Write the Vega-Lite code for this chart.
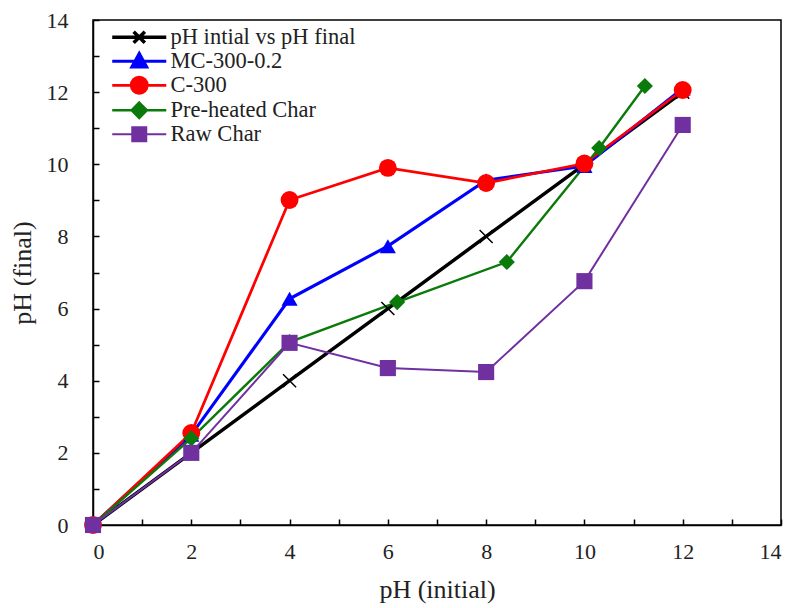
{
  "$schema": "https://vega.github.io/schema/vega-lite/v6.json",
  "width": 688,
  "height": 505,
  "autosize": {"type": "none"},
  "padding": {"left": 93, "top": 20, "right": 17, "bottom": 83},
  "background": "white",
  "config": {
    "view": {"stroke": "black", "strokeWidth": 1.5},
    "axis": {
      "labelFont": "Liberation Serif, Times New Roman, serif",
      "titleFont": "Liberation Serif, Times New Roman, serif",
      "labelFontSize": 22,
      "titleFontSize": 26,
      "titleFontWeight": "normal",
      "labelColor": "#222",
      "titleColor": "#222",
      "domainColor": "black",
      "domainWidth": 1.5,
      "tickColor": "black",
      "tickWidth": 1.5,
      "tickSize": -6,
      "grid": false
    },
    "legend": {
      "labelFont": "Liberation Serif, Times New Roman, serif",
      "labelFontSize": 22.5,
      "labelColor": "#222",
      "labelLimit": 500
    }
  },
  "data": {
    "values": [
      {"series": "pH intial vs pH final", "x": 0, "y": 0},
      {"series": "pH intial vs pH final", "x": 2, "y": 2},
      {"series": "pH intial vs pH final", "x": 4, "y": 4},
      {"series": "pH intial vs pH final", "x": 6, "y": 6},
      {"series": "pH intial vs pH final", "x": 8, "y": 8},
      {"series": "pH intial vs pH final", "x": 10, "y": 10},
      {"series": "pH intial vs pH final", "x": 12, "y": 12},
      {"series": "MC-300-0.2", "x": 0, "y": 0},
      {"series": "MC-300-0.2", "x": 2, "y": 2.5},
      {"series": "MC-300-0.2", "x": 4, "y": 6.27},
      {"series": "MC-300-0.2", "x": 6, "y": 7.73},
      {"series": "MC-300-0.2", "x": 8, "y": 9.56},
      {"series": "MC-300-0.2", "x": 10, "y": 9.95},
      {"series": "MC-300-0.2", "x": 12, "y": 12.1},
      {"series": "C-300", "x": 0, "y": 0},
      {"series": "C-300", "x": 2, "y": 2.55},
      {"series": "C-300", "x": 4, "y": 9.01},
      {"series": "C-300", "x": 6, "y": 9.9},
      {"series": "C-300", "x": 8, "y": 9.48},
      {"series": "C-300", "x": 10, "y": 10.02},
      {"series": "C-300", "x": 12, "y": 12.06},
      {"series": "Pre-heated Char", "x": 0, "y": 0},
      {"series": "Pre-heated Char", "x": 2, "y": 2.4},
      {"series": "Pre-heated Char", "x": 4, "y": 5.07},
      {"series": "Pre-heated Char", "x": 6.19, "y": 6.18},
      {"series": "Pre-heated Char", "x": 8.42, "y": 7.29},
      {"series": "Pre-heated Char", "x": 10.3, "y": 10.45},
      {"series": "Pre-heated Char", "x": 11.23, "y": 12.17},
      {"series": "Raw Char", "x": 0, "y": 0},
      {"series": "Raw Char", "x": 2, "y": 2.0},
      {"series": "Raw Char", "x": 4, "y": 5.05},
      {"series": "Raw Char", "x": 6, "y": 4.35},
      {"series": "Raw Char", "x": 8, "y": 4.24},
      {"series": "Raw Char", "x": 10, "y": 6.76},
      {"series": "Raw Char", "x": 12, "y": 11.09}
    ]
  },
  "encoding": {
    "x": {
      "field": "x", "type": "quantitative",
      "scale": {"domain": [0, 14], "nice": false},
      "axis": {
        "title": "pH (initial)",
        "values": [0,1,2,3,4,5,6,7,8,9,10,11,12,13,14],
        "labelExpr": "datum.value % 2 === 0 ? datum.label : ''",
        "labelPadding": 22,
        "titlePadding": 14
      }
    },
    "y": {
      "field": "y", "type": "quantitative",
      "scale": {"domain": [0, 14], "nice": false},
      "axis": {
        "title": "pH (final)",
        "values": [0,1,2,3,4,5,6,7,8,9,10,11,12,13,14],
        "labelExpr": "datum.value % 2 === 0 ? datum.label : ''",
        "labelPadding": 31,
        "titlePadding": 11
      }
    }
  },
  "layer": [
    {
      "mark": {"type": "line", "clip": false},
      "encoding": {
        "color": {
          "field": "series", "type": "nominal",
          "scale": {
            "domain": ["pH intial vs pH final", "MC-300-0.2", "C-300", "Pre-heated Char", "Raw Char"],
            "range": ["#000000", "#0000FF", "#FF0000", "#0A7A0A", "#7030A0"]
          },
          "legend": {
            "title": null,
            "orient": "none",
            "legendX": 35,
            "legendY": 6,
            "padding": 0,
            "symbolSize": 196,
            "labelOffset": 20,
            "rowPadding": -4,
            "encode": {
              "symbols": {
                "update": {
                  "shape": {"signal": "datum.value === 'pH intial vs pH final' ? 'M-3.86,0H3.86M-0.8,-0.8L0.8,0.8M-0.8,0.8L0.8,-0.8' : datum.value === 'MC-300-0.2' ? 'M-3.86,0H3.86M0,-1.1L1.05,0.8L-1.05,0.8Z' : datum.value === 'C-300' ? 'M-3.86,0H3.86M1.15,0A1.15,1.15,0,1,1,-1.15,0A1.15,1.15,0,1,1,1.15,0Z' : datum.value === 'Pre-heated Char' ? 'M-3.86,0H3.86M0,-1.1L1.1,0L0,1.1L-1.1,0Z' : 'M-3.86,0H3.86M-1,-1H1V1H-1Z'"},
                  "fill": {"scale": "color", "field": "value"},
                  "stroke": {"scale": "color", "field": "value"},
                  "strokeWidth": {"signal": "datum.value === 'pH intial vs pH final' ? 3.5 : 2"},
                  "fillOpacity": {"value": 1},
                  "opacity": {"value": 1}
                }
              }
            }
          }
        },
        "strokeWidth": {
          "field": "series", "type": "nominal",
          "scale": {
            "domain": ["pH intial vs pH final", "MC-300-0.2", "C-300", "Pre-heated Char", "Raw Char"],
            "range": [3.5, 2, 2, 2, 2]
          },
          "legend": null
        }
      }
    },
    {
      "transform": [{"filter": "datum.series === 'pH intial vs pH final'"}],
      "mark": {"type": "point", "shape": "M-1,-1L1,1M-1,1L1,-1", "size": 170, "filled": false, "color": "#000000", "strokeWidth": 1.5, "opacity": 1, "clip": false}
    },
    {
      "transform": [{"filter": "datum.series === 'MC-300-0.2'"}],
      "mark": {"type": "point", "shape": "triangle-up", "size": 260, "filled": true, "color": "#0000FF", "opacity": 1, "clip": false}
    },
    {
      "transform": [{"filter": "datum.series === 'C-300'"}],
      "mark": {"type": "point", "shape": "circle", "size": 320, "filled": true, "color": "#FF0000", "opacity": 1, "clip": false}
    },
    {
      "transform": [{"filter": "datum.series === 'Pre-heated Char'"}],
      "mark": {"type": "point", "shape": "diamond", "size": 260, "filled": true, "color": "#0A7A0A", "opacity": 1, "clip": false}
    },
    {
      "transform": [{"filter": "datum.series === 'Raw Char'"}],
      "mark": {"type": "point", "shape": "square", "size": 260, "filled": true, "color": "#7030A0", "opacity": 1, "clip": false}
    }
  ]
}
